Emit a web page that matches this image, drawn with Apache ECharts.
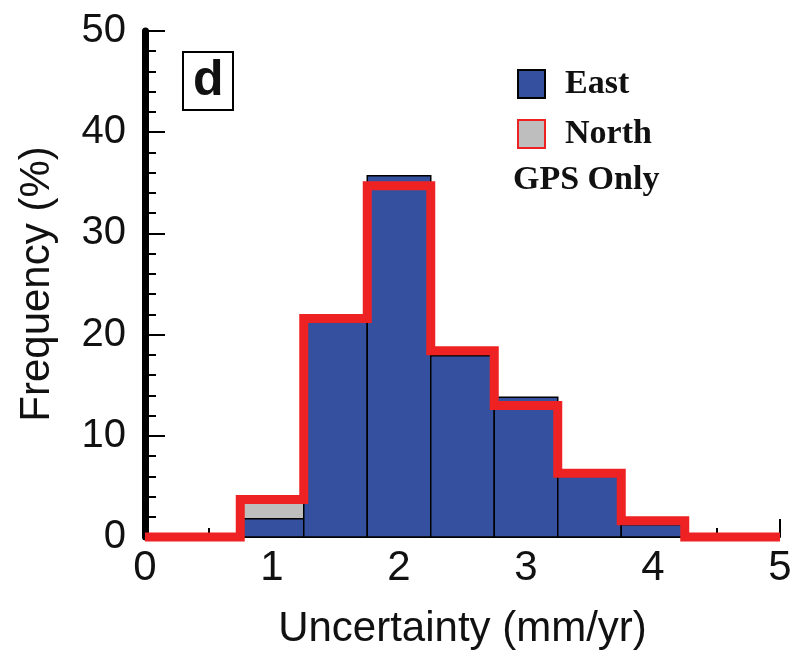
<!DOCTYPE html>
<html>
<head>
<meta charset="utf-8">
<title>Uncertainty histogram (GPS only)</title>
<script src="https://cdn.jsdelivr.net/npm/echarts@6/dist/echarts.min.js"></script>
<style>
  html, body { margin: 0; padding: 0; background: #fff; }
  #chart { width: 795px; height: 657px; }
</style>
</head>
<body>
<div id="chart"></div>
<script>
// bin centres (mm/yr), bins are 0.5 wide
const binCenters = [1, 1.5, 2, 2.5, 3, 3.5, 4];
const binWidth = 0.5;
// frequency (%) per bin
const eastPct = [1.8, 21.3, 35.7, 17.9, 13.8, 6.0, 1.2];
const northPct = [3.7, 21.6, 34.7, 18.4, 13.0, 6.3, 1.6];
const xRange = [0, 5];
const yRange = [0, 50];

const BLUE = '#34509f';
const GREY = '#bebebe';
const RED = '#ee2222';

// outline of the north histogram as a step path
function stepPath(centers, values) {
  const pts = [[xRange[0], 0]];
  pts.push([centers[0] - binWidth / 2, 0]);
  centers.forEach(function (c, i) {
    pts.push([c - binWidth / 2, values[i]]);
    pts.push([c + binWidth / 2, values[i]]);
  });
  pts.push([centers[centers.length - 1] + binWidth / 2, 0]);
  pts.push([xRange[1], 0]);
  return pts;
}

function barRender(fill, stroke, lw) {
  return function (params, api) {
    const c = api.value(0);
    const v = api.value(1);
    const p0 = api.coord([c - binWidth / 2, v]);
    const p1 = api.coord([c + binWidth / 2, 0]);
    return {
      type: 'rect',
      shape: { x: p0[0], y: p0[1], width: p1[0] - p0[0], height: p1[1] - p0[1] },
      style: { fill: fill, stroke: stroke, lineWidth: lw }
    };
  };
}

const chart = echarts.init(document.getElementById('chart'));
chart.setOption({
  backgroundColor: '#fff',
  animation: false,
  title: {
    text: 'd',
    left: 183,
    top: 52,
    padding: [4, 10, 4, 10],
    borderColor: '#000',
    borderWidth: 2,
    textStyle: { fontFamily: 'Liberation Sans', fontWeight: 'bold', fontSize: 50, color: '#111', lineHeight: 50 }
  },
  legend: {
    orient: 'vertical',
    left: 512,
    top: 62,
    itemWidth: 27,
    itemHeight: 28,
    itemGap: 16,
    selectedMode: false,
    textStyle: {
      fontFamily: 'Liberation Serif',
      fontWeight: 'bold',
      fontSize: 34,
      color: '#111',
      padding: [0, 0, 0, 15]
    },
    data: [
      { name: 'East', icon: 'rect', itemStyle: { color: BLUE, borderColor: '#000', borderWidth: 2 } },
      { name: 'North', icon: 'rect', itemStyle: { color: GREY, borderColor: RED, borderWidth: 2 } }
    ]
  },
  graphic: [{
    type: 'text',
    left: 513,
    top: 163,
    style: { text: 'GPS Only', font: 'bold 34px "Liberation Serif"', fill: '#111' }
  }],
  grid: { left: 145, right: 15, top: 31, bottom: 120 },
  xAxis: {
    type: 'value',
    min: xRange[0],
    max: xRange[1],
    interval: 1,
    name: 'Uncertainty (mm/yr)',
    nameLocation: 'middle',
    nameGap: 71,
    nameTextStyle: { fontFamily: 'Liberation Sans', fontSize: 42, color: '#111' },
    axisLine: { lineStyle: { color: '#000', width: 2 } },
    axisTick: { inside: true, length: 18, lineStyle: { color: '#000', width: 2 } },
    minorTick: { show: true, splitNumber: 2, length: 9, lineStyle: { color: '#000', width: 2 } },
    axisLabel: { margin: 10, fontFamily: 'Liberation Sans', fontSize: 42, color: '#111' },
    splitLine: { show: false }
  },
  yAxis: {
    type: 'value',
    min: yRange[0],
    max: yRange[1],
    interval: 10,
    name: 'Frequency (%)',
    nameLocation: 'middle',
    nameGap: 87,
    nameTextStyle: { fontFamily: 'Liberation Sans', fontSize: 42, color: '#111' },
    axisLine: { show: true, lineStyle: { color: '#000', width: 7 } },
    axisTick: { inside: true, length: 20, lineStyle: { color: '#000', width: 2 } },
    minorTick: { show: true, splitNumber: 5, length: 11, lineStyle: { color: '#000', width: 2 } },
    axisLabel: { margin: 19, fontFamily: 'Liberation Sans', fontSize: 40, color: '#111' },
    splitLine: { show: false }
  },
  series: [
    {
      name: 'North',
      type: 'custom',
      renderItem: barRender(GREY, '#000', 1.5),
      encode: { x: 0, y: 1 },
      data: binCenters.map(function (c, i) { return [c, northPct[i]]; }),
      z: 2
    },
    {
      name: 'East',
      type: 'custom',
      renderItem: barRender(BLUE, '#000', 1.5),
      encode: { x: 0, y: 1 },
      data: binCenters.map(function (c, i) { return [c, eastPct[i]]; }),
      z: 3
    },
    {
      name: 'North',
      type: 'line',
      data: stepPath(binCenters, northPct),
      symbol: 'none',
      clip: false,
      lineStyle: { color: RED, width: 9, join: 'miter', cap: 'butt' },
      z: 4
    }
  ]
});
</script>
</body>
</html>
